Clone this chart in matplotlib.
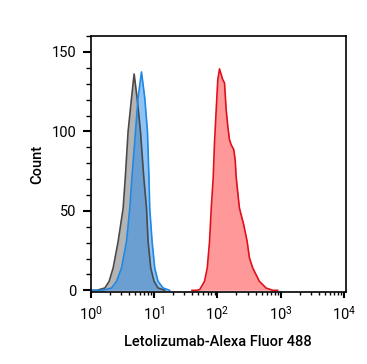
import numpy as np
import matplotlib
matplotlib.use('Agg')
import matplotlib.pyplot as plt
from matplotlib.ticker import LogLocator, MultipleLocator

plt.rcParams['font.family'] = ['Roboto', 'DejaVu Sans']
plt.rcParams['mathtext.fontset'] = 'custom'
plt.rcParams['mathtext.rm'] = 'Roboto'
plt.rcParams['mathtext.it'] = 'Roboto'

# histogram outlines, x as log10(intensity), y as count
grey_log = [0.0, 0.094, 0.225, 0.292, 0.355, 0.434, 0.513, 0.547, 0.591, 0.645, 0.686,
            0.733, 0.786, 0.838, 0.881, 0.906, 0.948, 1.0, 1.063, 1.17]
grey_count = [0, 0, 1.5, 5.7, 14.1, 30.8, 51.8, 71.2, 100, 121, 136.1,
              121, 100, 71.2, 51.8, 30.8, 14.1, 5.7, 1.5, 0]

blue_log = [0.0, 0.193, 0.330, 0.409, 0.487, 0.566, 0.618, 0.652, 0.708, 0.748, 0.802,
            0.854, 0.896, 0.920, 0.932, 0.969, 1.011, 1.063, 1.142, 1.247]
blue_count = [0, 0, 1.5, 5.7, 14.1, 30.8, 51.8, 71.2, 100, 121, 137.4,
              121, 100, 71.2, 51.8, 30.8, 14.1, 5.7, 1.5, 0]

red_log = [1.60, 1.667, 1.719, 1.797, 1.840, 1.876, 1.903, 1.934, 1.954, 1.981, 2.006, 2.033,
           2.085, 2.112, 2.138, 2.164, 2.190, 2.217, 2.258, 2.280, 2.296, 2.347,
           2.415, 2.469, 2.505, 2.557, 2.662, 2.767, 2.871, 2.95]
red_count = [0, 0, 0.4, 5.7, 14.1, 30.8, 51.8, 71.2, 92.7, 113.7, 132.5, 139.3,
             132.5, 130.5, 113.7, 103.2, 94.8, 91.6, 88.5, 82.2, 71.2, 51.8,
             41.3, 30.8, 20.4, 14.1, 5.7, 1.5, 0, 0]

fig = plt.figure(figsize=(3.67, 3.64), dpi=100)
ax = fig.add_axes([0.247, 0.198, 0.696, 0.703])

gx = 10 ** np.array(grey_log)
bx = 10 ** np.array(blue_log)
rx = 10 ** np.array(red_log)

ax.fill_between(gx, 0, grey_count, color='#b4b4b4', lw=0)
ax.plot(gx, grey_count, color='#4a4a4a', lw=1.2)
ax.fill_between(bx, 0, blue_count, color='#288cec', alpha=0.52, lw=0)
ax.plot(bx, blue_count, color='#1e88e5', lw=1.2)
ax.fill_between(rx, 0, red_count, color='#ff0000', alpha=0.4, lw=0)
ax.plot(rx, red_count, color='#e0101a', lw=1.2)

ax.set_xscale('log')
ax.set_xlim(1, 10 ** 4.03)
ax.set_ylim(-1, 160)
ax.xaxis.set_major_locator(LogLocator(base=10, numticks=10))
ax.xaxis.set_minor_locator(LogLocator(base=10, subs=np.arange(2, 10), numticks=20))
ax.yaxis.set_major_locator(MultipleLocator(50))
ax.yaxis.set_minor_locator(MultipleLocator(10))

for s in ax.spines.values():
    s.set_linewidth(1.2)
ax.tick_params(axis='x', which='major', length=4.5, width=1.5, labelsize=10.5, pad=4.5)
ax.tick_params(axis='x', which='minor', length=2.5, width=1.0)
ax.tick_params(axis='y', which='major', length=5.8, width=1.5, labelsize=10.5, pad=4.5)
ax.tick_params(axis='y', which='minor', length=3.6, width=1.0)

ax.set_ylabel('Count', fontsize=10.5, fontweight='medium', labelpad=5)
ax.set_xlabel('Letolizumab-Alexa Fluor 488', fontsize=10.5, fontweight='medium', labelpad=9)

fig.savefig('out.png', dpi=100)
